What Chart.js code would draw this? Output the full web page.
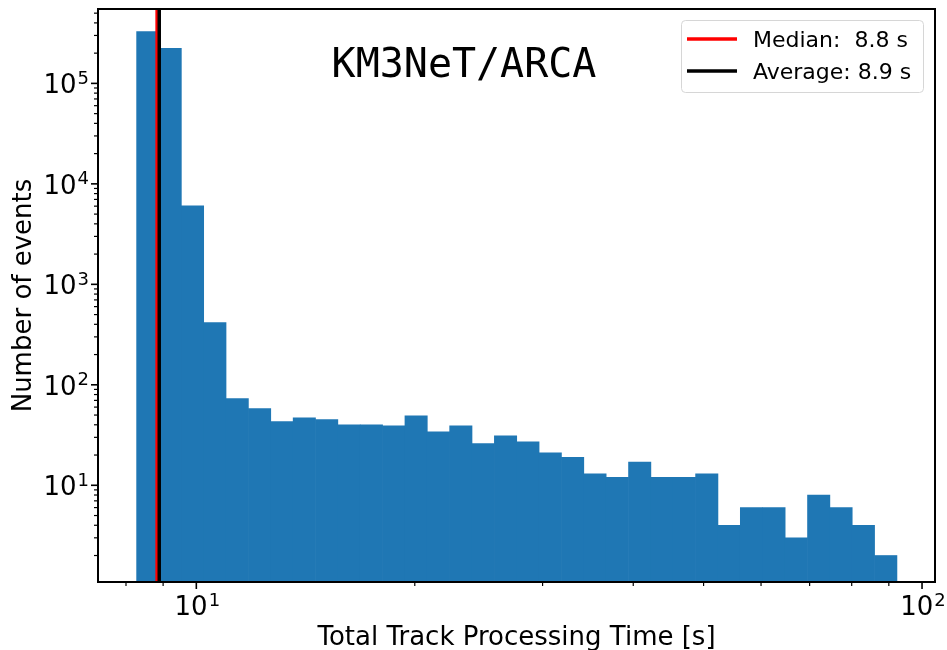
<!DOCTYPE html>
<html><head><meta charset="utf-8">
<script src="https://cdn.jsdelivr.net/npm/chart.js@4.4.1/dist/chart.umd.min.js"></script>
<style>html,body{margin:0;padding:0;background:#fff}</style>
</head><body>
<canvas id="c" width="947" height="650"></canvas>
<script>
// ---- data ----
const binCenters = [8.573, 9.204, 9.880, 10.606, 11.386, 12.223, 13.122, 14.087, 15.122, 16.234,
  17.428, 18.709, 20.085, 21.561, 23.147, 24.848, 26.675, 28.636, 30.742, 33.001,
  35.428, 38.032, 40.829, 43.829, 47.052, 50.511, 54.225, 58.210, 62.517, 67.113,
  72.047, 77.340, 83.026, 89.131];
const counts = [328000, 223000, 6030, 416, 73, 58, 43, 47, 45, 40,
  40, 39, 49, 34, 39, 26, 31, 27, 21, 19,
  13, 12, 17, 12, 12, 13, 4, 6, 6, 3,
  8, 6, 4, 2];
const medianTime = 8.83;
const averageTime = 8.89;
const legendLabels = ['Median:  8.8 s', 'Average: 8.9 s'];
const legendColors = ['#ff0000', '#000000'];
const titleText = 'KM3NeT/ARCA';
const xAxisTitle = 'Total Track Processing Time [s]';
const yAxisTitle = 'Number of events';
const xRange = [7.32, 104.2];
const yRange = [1.09, 5.5e5];
const xMajorTicks = [10, 100];
const xMajorExps = ['1', '2'];
const xMinorTicks = [8, 9, 20, 30, 40, 50, 60, 70, 80, 90];
const yMajorTicks = [10, 100, 1000, 10000, 100000];
const yMajorExps = ['1', '2', '3', '4', '5'];
const minorMantissas = [2, 3, 4, 5, 6, 7, 8, 9];
const yDecades = [1, 10, 100, 1000, 10000, 100000];
const yMinorTicks = [];
yDecades.forEach(d => minorMantissas.forEach(m => { const v = m * d; if (v > yRange[0] && v < yRange[1]) yMinorTicks.push(v); }));

const FONT = '"DejaVu Sans"';

const decor = {
  id: 'decor',
  afterDraw(chart) {
    const {ctx, chartArea: a, scales: {x, y}} = chart;
    ctx.save();
    const line = (x0, y0, x1, y1, w, c) => {
      ctx.beginPath(); ctx.lineWidth = w; ctx.strokeStyle = c || '#000';
      ctx.moveTo(x0, y0); ctx.lineTo(x1, y1); ctx.stroke();
    };
    // frame
    ctx.lineWidth = 2; ctx.strokeStyle = '#000';
    ctx.strokeRect(a.left, a.top, a.right - a.left, a.bottom - a.top);
    // ticks
    xMajorTicks.forEach(v => { const p = x.getPixelForValue(v); line(p, a.bottom, p, a.bottom + 7, 1.6); });
    xMinorTicks.forEach(v => { const p = x.getPixelForValue(v); line(p, a.bottom, p, a.bottom + 4, 1.2); });
    yMajorTicks.forEach(v => { const p = y.getPixelForValue(v); line(a.left, p, a.left - 7, p, 1.6); });
    yMinorTicks.forEach(v => { const p = y.getPixelForValue(v); line(a.left, p, a.left - 4, p, 1.2); });
    // tick labels with superscripts
    const pow = (exp, px, baseY, align) => {
      ctx.fillStyle = '#000'; ctx.textAlign = 'left'; ctx.textBaseline = 'alphabetic';
      ctx.font = '26px ' + FONT; const wb = ctx.measureText('10').width;
      ctx.font = '18px ' + FONT; const we = ctx.measureText(exp).width;
      const gap = 1;
      const total = wb + gap + we;
      const x0 = align === 'center' ? px - total / 2 : px - total;
      ctx.font = '26px ' + FONT; ctx.fillText('10', x0, baseY);
      ctx.font = '18px ' + FONT; ctx.fillText(exp, x0 + wb + gap, baseY - 9.5);
    };
    xMajorTicks.forEach((v, i) => pow(xMajorExps[i], x.getPixelForValue(v) + 1, 615, 'center'));
    yMajorTicks.forEach((v, i) => pow(yMajorExps[i], 89, y.getPixelForValue(v) + 9.8, 'right'));
    // title text
    ctx.fillStyle = '#000'; ctx.textAlign = 'center'; ctx.textBaseline = 'alphabetic';
    ctx.font = '40px "DejaVu Sans Mono"';
    ctx.fillText(titleText, 464, 77);
    // legend
    const lx = 681.5, ly = 20.5, lw = 242, lh = 72, r = 4;
    ctx.beginPath();
    ctx.moveTo(lx + r, ly); ctx.lineTo(lx + lw - r, ly); ctx.arcTo(lx + lw, ly, lx + lw, ly + r, r);
    ctx.lineTo(lx + lw, ly + lh - r); ctx.arcTo(lx + lw, ly + lh, lx + lw - r, ly + lh, r);
    ctx.lineTo(lx + r, ly + lh); ctx.arcTo(lx, ly + lh, lx, ly + lh - r, r);
    ctx.lineTo(lx, ly + r); ctx.arcTo(lx, ly, lx + r, ly, r); ctx.closePath();
    ctx.fillStyle = 'rgba(255,255,255,0.8)'; ctx.fill();
    ctx.lineWidth = 1; ctx.strokeStyle = '#d6d6d6'; ctx.stroke();
    const rows = [39, 71];
    legendLabels.forEach((t, i) => {
      line(687, rows[i], 737, rows[i], 3.5, legendColors[i]);
      ctx.fillStyle = '#000'; ctx.textAlign = 'left'; ctx.textBaseline = 'alphabetic';
      ctx.font = '22px ' + FONT;
      ctx.fillText(t, 753, rows[i] + 8);
    });
    ctx.restore();
  }
};

const xTickVals = xMinorTicks.concat(xMajorTicks).sort((a, b) => a - b);

new Chart(document.getElementById('c'), {
  type: 'bar',
  data: {
    datasets: [
      {
        type: 'bar',
        data: binCenters.map((c, i) => ({x: c, y: counts[i]})),
        backgroundColor: '#1f77b4',
        borderWidth: 0,
        barPercentage: 1,
        categoryPercentage: 1,
        order: 3
      },
      {
        type: 'line',
        data: [{x: medianTime, y: yRange[0]}, {x: medianTime, y: yRange[1]}],
        borderColor: legendColors[0], borderWidth: 3.5, pointRadius: 0, order: 2
      },
      {
        type: 'line',
        data: [{x: averageTime, y: yRange[0]}, {x: averageTime, y: yRange[1]}],
        borderColor: legendColors[1], borderWidth: 3.5, pointRadius: 0, order: 1
      }
    ]
  },
  options: {
    responsive: false,
    devicePixelRatio: 1,
    animation: false,
    events: [],
    layout: {padding: {left: 0, top: 9, right: 12, bottom: 0}},
    plugins: {legend: {display: false}, tooltip: {enabled: false}, title: {display: false}},
    scales: {
      x: {
        type: 'logarithmic', min: xRange[0], max: xRange[1], offset: false,
        grid: {display: false}, border: {display: false}, ticks: {display: false},
        title: {display: true, text: xAxisTitle, color: '#000', font: {size: 26, family: 'DejaVu Sans'}, padding: {top: 0, bottom: -4}},
        afterBuildTicks: s => { s.ticks = xTickVals.map(v => ({value: v})); },
        afterFit: s => { s.height = 68; }
      },
      y: {
        type: 'logarithmic', min: yRange[0], max: yRange[1],
        grid: {display: false}, border: {display: false}, ticks: {display: false},
        title: {display: true, text: yAxisTitle, color: '#000', font: {size: 26, family: 'DejaVu Sans'}, padding: {top: 9, bottom: 0}},
        afterBuildTicks: s => { s.ticks = yMajorTicks.map(v => ({value: v})); },
        afterFit: s => { s.width = 98; }
      }
    }
  },
  plugins: [decor]
});
</script>
</body></html>
